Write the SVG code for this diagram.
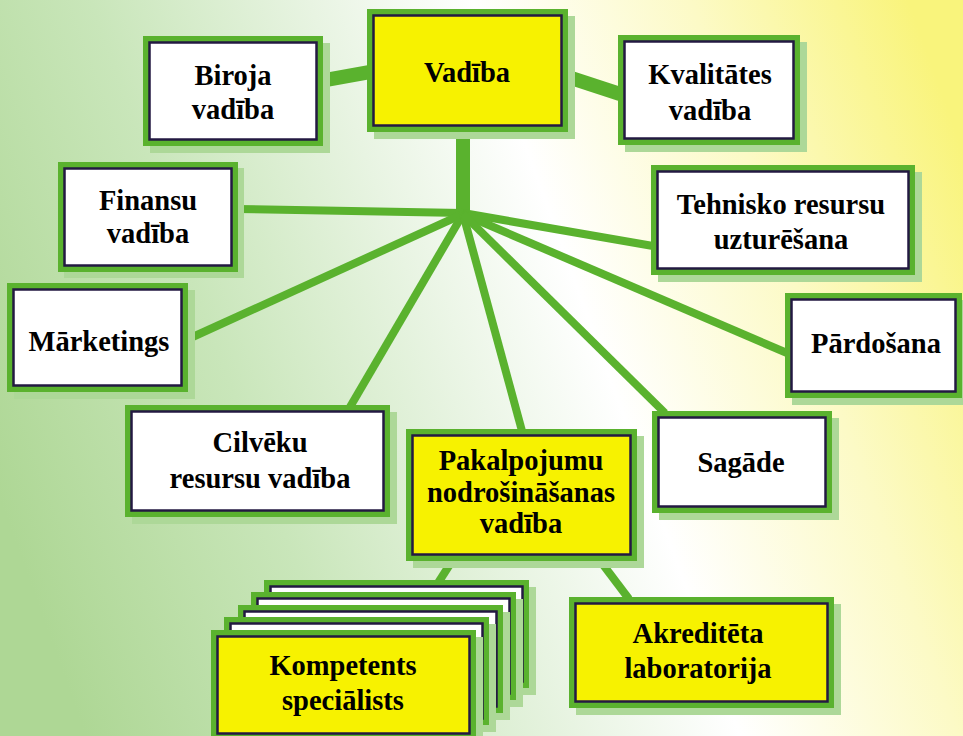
<svg xmlns="http://www.w3.org/2000/svg" width="963" height="736" viewBox="0 0 963 736">
<defs>
<linearGradient id="bg" gradientUnits="userSpaceOnUse" x1="0" y1="500" x2="963" y2="150">
<stop offset="0" stop-color="#AED795"/>
<stop offset="0.25" stop-color="#C9E6BA"/>
<stop offset="0.45" stop-color="#E8F4E2"/>
<stop offset="0.6" stop-color="#FFFFFF"/>
<stop offset="0.8" stop-color="#FCFAC6"/>
<stop offset="1" stop-color="#F9F47C"/>
</linearGradient>
<style>
.sh{fill:#ADD898}
.g{fill:#5AB22E}
.w{fill:#FFFFFF;stroke:#231942;stroke-width:2.5}
.y{fill:#F7F200;stroke:#231942;stroke-width:2.5}
.c{stroke:#5AB22E;stroke-width:8;fill:none;stroke-linecap:butt}
.ct{stroke:#5AB22E;stroke-width:14;fill:none}
text{font-family:"Liberation Serif","Times New Roman",serif;font-weight:bold;font-size:28.5px;fill:#000;text-anchor:middle}
</style>
</defs>
<rect x="0" y="0" width="963" height="736" fill="url(#bg)"/>
<g id="connectors">
<line class="ct" x1="320" y1="81" x2="370" y2="72"/>
<line class="ct" x1="565" y1="76" x2="620" y2="94"/>
<line class="ct" x1="463" y1="130" x2="463" y2="218"/>
<line class="c" x1="463" y1="213" x2="236" y2="209"/>
<line class="c" x1="463" y1="213" x2="653" y2="246"/>
<line class="c" x1="463" y1="214" x2="186" y2="340"/>
<line class="c" x1="463" y1="214" x2="787" y2="353"/>
<line class="c" x1="463" y1="214" x2="350" y2="407"/>
<line class="c" x1="463" y1="214" x2="522" y2="431"/>
<line class="c" x1="463" y1="214" x2="665" y2="413"/>
<line class="c" x1="454" y1="558" x2="438" y2="583"/>
<line class="c" x1="598" y1="558" x2="629" y2="599"/>
</g>
<g id="vadiba">
<rect class="sh" x="374" y="16" width="201" height="123"/>
<rect class="g" x="367" y="9" width="201" height="123"/>
<rect class="y" x="373.5" y="15.5" width="188" height="110"/>
<text x="467" y="82">Vadība</text>
</g>
<g id="biroja">
<rect class="sh" x="150" y="43" width="180" height="110"/>
<rect class="g" x="143" y="36" width="180" height="110"/>
<rect class="w" x="149.5" y="42.5" width="167" height="97"/>
<text x="233" y="85">Biroja</text>
<text x="233" y="119">vadība</text>
</g>
<g id="kvalitates">
<rect class="sh" x="625" y="42" width="182" height="110"/>
<rect class="g" x="618" y="35" width="182" height="110"/>
<rect class="w" x="624.5" y="41.5" width="169" height="97"/>
<text x="710" y="84">Kvalitātes</text>
<text x="710" y="120">vadība</text>
</g>
<g id="finansu">
<rect class="sh" x="64" y="168" width="180" height="110"/>
<rect class="g" x="58" y="162" width="180" height="110"/>
<rect class="w" x="64.5" y="168.5" width="167" height="97"/>
<text x="148" y="210">Finansu</text>
<text x="148" y="243">vadība</text>
</g>
<g id="tehnisko">
<rect class="sh" x="658" y="172" width="264" height="110"/>
<rect class="g" x="651" y="165" width="264" height="110"/>
<rect class="w" x="657.5" y="171.5" width="251" height="97"/>
<text x="781" y="214">Tehnisko resursu</text>
<text x="781" y="249">uzturēšana</text>
</g>
<g id="marketings">
<rect class="sh" x="14" y="290" width="181" height="109"/>
<rect class="g" x="7" y="283" width="181" height="109"/>
<rect class="w" x="13.5" y="289.5" width="168" height="96"/>
<text x="99" y="351">Mārketings</text>
</g>
<g id="pardosana">
<rect class="sh" x="792" y="300" width="177" height="105"/>
<rect class="g" x="785" y="293" width="177" height="105"/>
<rect class="w" x="791.5" y="299.5" width="164" height="92"/>
<text x="876" y="353">Pārdošana</text>
</g>
<g id="cilveku">
<rect class="sh" x="132" y="412" width="265" height="112"/>
<rect class="g" x="125" y="405" width="265" height="112"/>
<rect class="w" x="131.5" y="411.5" width="252" height="99"/>
<text x="260" y="452">Cilvēku</text>
<text x="260" y="488">resursu vadība</text>
</g>
<g id="sagade">
<rect class="sh" x="659" y="418" width="180" height="102"/>
<rect class="g" x="652" y="411" width="180" height="102"/>
<rect class="w" x="658.5" y="417.5" width="167" height="89"/>
<text x="741" y="472">Sagāde</text>
</g>
<g id="pakalpojumu">
<rect class="sh" x="413" y="436" width="231" height="132"/>
<rect class="g" x="406" y="429" width="231" height="132"/>
<rect class="y" x="412.5" y="435.5" width="218" height="119"/>
<text x="521" y="470">Pakalpojumu</text>
<text x="521" y="502">nodrošināšanas</text>
<text x="521" y="533">vadība</text>
</g>
<g id="akreditetа">
<rect class="sh" x="576" y="604" width="265" height="111"/>
<rect class="g" x="569" y="597" width="265" height="111"/>
<rect class="y" x="575.5" y="603.5" width="252" height="98"/>
<text x="698" y="643">Akreditēta</text>
<text x="698" y="678">laboratorija</text>
</g>
<g id="kompetents">
<rect class="sh" x="271" y="587" width="265" height="108"/>
<rect class="g" x="264" y="580" width="265" height="108"/>
<rect class="w" x="270.5" y="586.5" width="252" height="95"/>
<rect class="sh" x="258" y="599" width="265" height="108"/>
<rect class="g" x="251" y="592" width="265" height="108"/>
<rect class="w" x="257.5" y="598.5" width="252" height="95"/>
<rect class="sh" x="245" y="612" width="265" height="108"/>
<rect class="g" x="238" y="605" width="265" height="108"/>
<rect class="w" x="244.5" y="611.5" width="252" height="95"/>
<rect class="sh" x="231" y="624" width="265" height="108"/>
<rect class="g" x="224" y="617" width="265" height="108"/>
<rect class="w" x="230.5" y="623.5" width="252" height="95"/>
<rect class="sh" x="218" y="637" width="265" height="108"/>
<rect class="g" x="211" y="630" width="265" height="108"/>
<rect class="y" x="217.5" y="636.5" width="252" height="97"/>
<text x="343" y="675">Kompetents</text>
<text x="343" y="710">speciālists</text>
</g>
</svg>
